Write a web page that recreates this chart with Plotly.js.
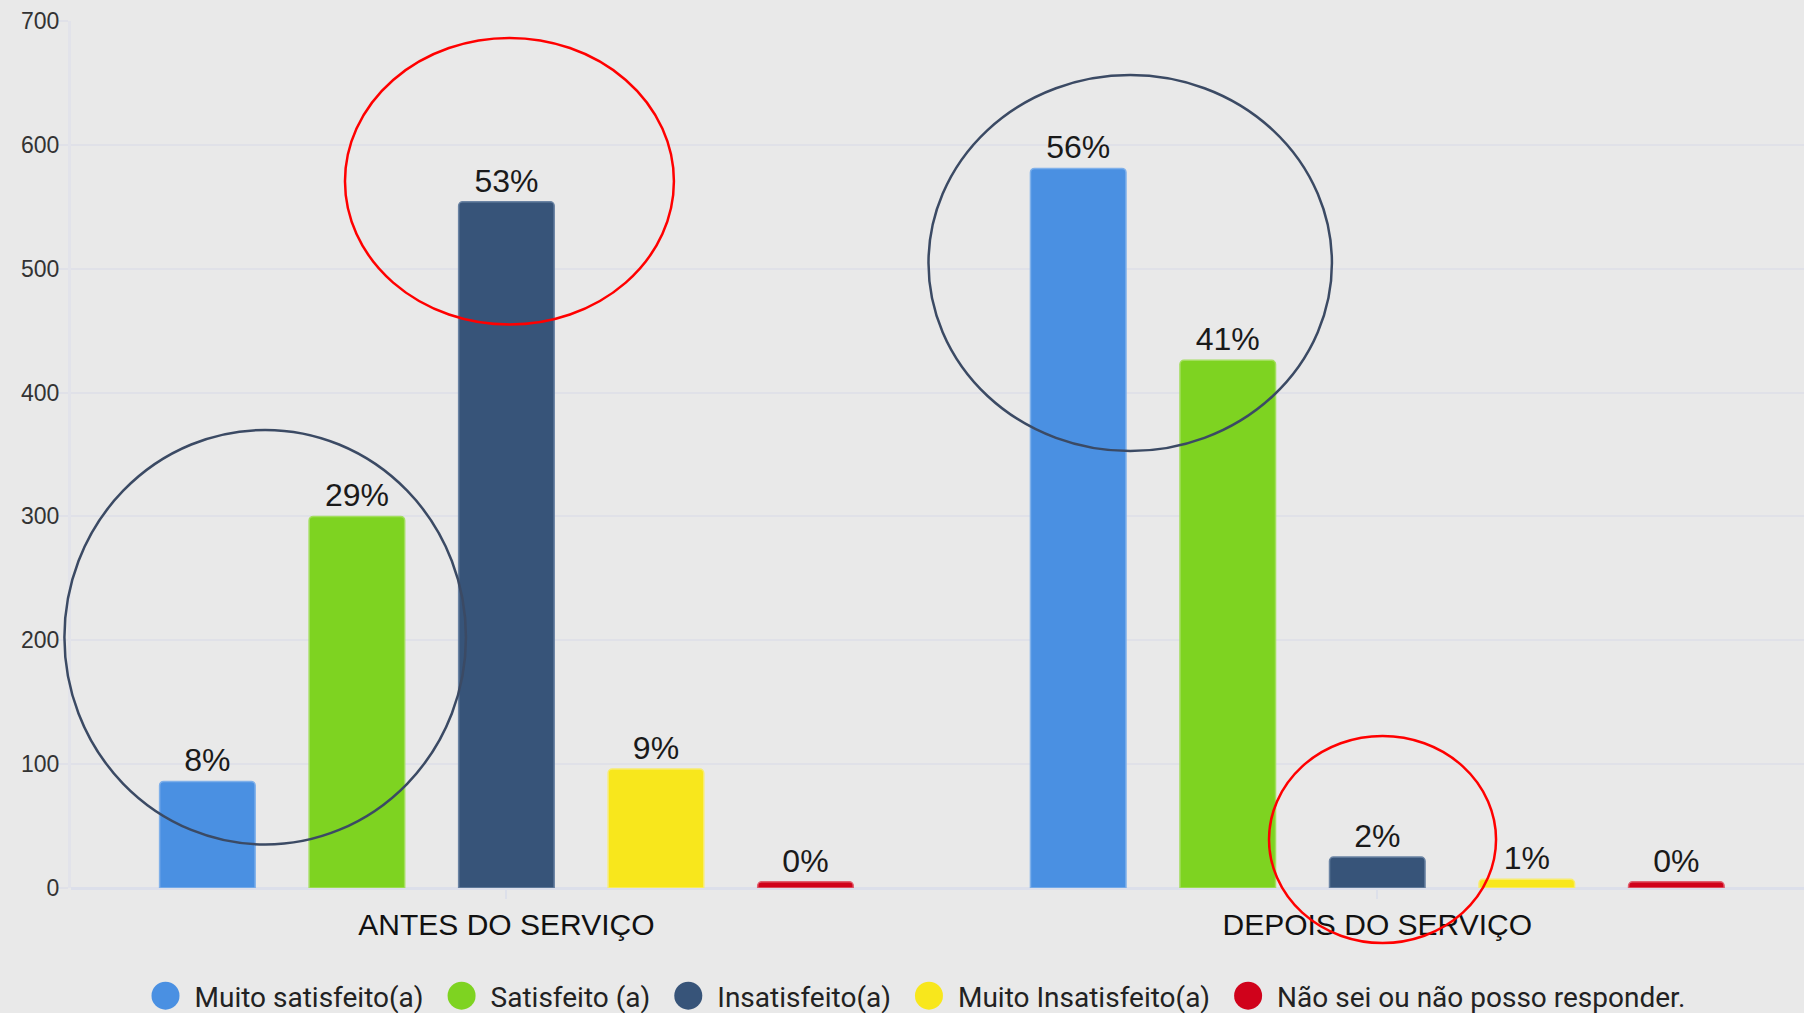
<!DOCTYPE html>
<html>
<head>
<meta charset="utf-8">
<script src="https://cdn.plot.ly/plotly-3.0.1.min.js"></script>
<style>
html,body{margin:0;padding:0;background:#e9e9e9;}
#chart{width:1804px;height:1013px;}
</style>
</head>
<body>
<div id="chart"></div>
<script>
// ---- data ----
var categories = ["ANTES DO SERVIÇO", "DEPOIS DO SERVIÇO"];
var seriesNames = ["Muito satisfeito(a)", "Satisfeito (a)", "Insatisfeito(a)", "Muito Insatisfeito(a)", "Não sei ou não posso responder."];
var muitoSatisfeito = [86, 581];
var satisfeito = [300, 426];
var insatisfeito = [554, 25];
var muitoInsatisfeito = [96, 7];
var naoSei = [5, 5];
var labelsMuitoSatisfeito = ["8%", "56%"];
var labelsSatisfeito = ["29%", "41%"];
var labelsInsatisfeito = ["53%", "2%"];
var labelsMuitoInsatisfeito = ["9%", "1%"];
var labelsNaoSei = ["0%", "0%"];
var yTickValues = [0, 100, 200, 300, 400, 500, 600, 700];

// ---- styling ----
var colors = ["#4a90e2", "#7ed321", "#375479", "#f8e71c", "#d0021b"];
var edgeColors = ["#7fb0ea", "#a3de5e", "#6a83a3", "#f8ec6e", "#e0606f"];
var values = [muitoSatisfeito, satisfeito, insatisfeito, muitoInsatisfeito, naoSei];
var labels = [labelsMuitoSatisfeito, labelsSatisfeito, labelsInsatisfeito, labelsMuitoInsatisfeito, labelsNaoSei];

var data = values.map(function (v, i) {
  return {
    type: "bar",
    name: seriesNames[i],
    x: categories,
    y: v,
    text: labels[i],
    textposition: "outside",
    cliponaxis: false,
    textfont: {family: "Liberation Sans, Arial, sans-serif", size: 32, color: "#1a1a1a"},
    marker: {color: colors[i], line: {color: edgeColors[i], width: 1.5}},
    hoverinfo: "skip"
  };
});

var dark = "#3b4a64", red = "#ff0000";
function ellipse(x0, x1, y0, y1, c) {
  return {type: "circle", xref: "paper", yref: "paper", x0: x0, x1: x1, y0: y0, y1: y1,
          line: {color: c, width: 2.5}, layer: "above"};
}

var layout = {
  width: 1804, height: 1013,
  margin: {l: 71, r: 0, t: 21, b: 125, pad: 0, autoexpand: false},
  paper_bgcolor: "#e9e9e9",
  plot_bgcolor: "#e9e9e9",
  barmode: "group",
  bargap: 0.1415,
  bargroupgap: 0.361,
  barcornerradius: 4,
  font: {family: "Liberation Sans, Arial, sans-serif", color: "#222"},
  xaxis: {
    type: "category",
    range: [-0.5, 1.49],
    showgrid: false,
    zeroline: false,
    showline: false,
    automargin: false,
    ticks: "outside", ticklen: 10, tickwidth: 2, tickcolor: "#dde0ea",
    tickfont: {family: "Liberation Sans, Arial, sans-serif", size: 30, color: "#111"},
    fixedrange: true
  },
  yaxis: {
    range: [0, 700],
    tickvals: yTickValues,
    ticktext: yTickValues.map(String),
    automargin: false,
    showgrid: true, gridcolor: "#e0e1e8", gridwidth: 2,
    zeroline: true, zerolinecolor: "#dcdfea", zerolinewidth: 3,
    showline: true, linecolor: "#e2e3ea", linewidth: 3,
    ticks: "outside", ticklen: 10, tickwidth: 2, tickcolor: "#e0e1e8",
    ticklabelstandoff: -6,
    tickfont: {family: "Liberation Sans, Arial, sans-serif", size: 23, color: "#333"},
    fixedrange: true
  },
  showlegend: true,
  legend: {
    orientation: "h",
    xref: "paper", x: 0.485, xanchor: "center",
    yref: "container", y: 0.0168, yanchor: "middle",
    font: {family: "Roboto, sans-serif", size: 28, color: "#222"},
    itemwidth: 52,
    bgcolor: "rgba(0,0,0,0)",
    itemclick: false, itemdoubleclick: false
  },
  shapes: [
    ellipse(-0.0038, 0.2279, 0.0502, 0.5283, dark),
    ellipse(0.1581, 0.3479, 0.6499, 0.9804, red),
    ellipse(0.4948, 0.7276, 0.5040, 0.9377, dark),
    ellipse(0.6913, 0.8223, -0.0634, 0.1753, red)
  ]
};

Plotly.newPlot("chart", data, layout, {displayModeBar: false, staticPlot: true}).then(function () {
  var r = 14, dx = 2;
  document.querySelectorAll("#chart .legend .legendpoints path").forEach(function (p) {
    p.setAttribute("d", "M" + (dx + r) + ",0A" + r + "," + r + " 0 1,1 " + dx + ",-" + r + "A" + r + "," + r + " 0 0,1 " + (dx + r) + ",0Z");
    p.style.strokeWidth = "0px";
  });
});
</script>
</body>
</html>
